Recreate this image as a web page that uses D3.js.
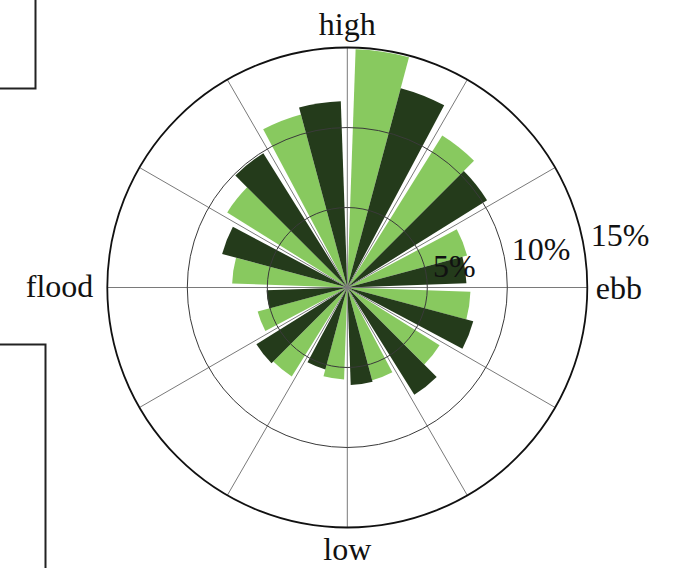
<!DOCTYPE html>
<html>
<head>
<meta charset="utf-8">
<script src="https://cdn.jsdelivr.net/npm/d3@7/dist/d3.min.js"></script>
<style>
  html, body { margin: 0; padding: 0; background: #fff; }
  svg { display: block; }
  text { font-family: "Liberation Serif", "DejaVu Serif", serif; fill: #111; }
</style>
</head>
<body>
<svg id="chart" width="675" height="568"></svg>
<script>
// ---- data ----
const binStarts = [0, 30, 60, 90, 120, 150, 180, 210, 240, 270, 300, 330]; // degrees, clockwise from "high"
const lightValues = [14.9, 11.2, 7.75, 7.7, 6.8, 6.0, 5.75, 6.55, 5.8, 7.2, 8.85, 11.2];
const darkValues  = [12.9, 10.3, 7.45, 8.15, 7.9, 6.1, 5.3, 6.7, 5.05, 8.1, 9.9, 11.65];
const radialTicks = [5, 10, 15];
const tickLabels = ["5%", "10%", "15%"];
const directionLabels = ["high", "ebb", "low", "flood"];
const directionAngles = [0, 90, 180, 270];

// ---- layout ----
const svg = d3.select("#chart");
const cx = 347.3, cy = 287.5;
const rScale = d3.scaleLinear().domain([0, 15]).range([0, 240]);
const rad = d => d * Math.PI / 180;
const colLight = "#88c95f";
const colDark = "#243b1b";

// frame fragments of neighbouring panels
svg.append("path").attr("d", "M35.5,0 V88.5 H0").attr("fill", "none").attr("stroke", "#222").attr("stroke-width", 2);
svg.append("path").attr("d", "M0,344.5 H45.5 V568").attr("fill", "none").attr("stroke", "#222").attr("stroke-width", 2);

const g = svg.append("g").attr("transform", `translate(${cx},${cy})`);
const arc = d3.arc().innerRadius(0);

// bars
const bars = [];
binStarts.forEach((s, i) => {
  bars.push({ start: s + 2, end: s + 15, v: lightValues[i], c: colLight });
  bars.push({ start: s + 15, end: s + 28, v: darkValues[i], c: colDark });
});
g.selectAll("path.bar").data(bars).join("path")
  .attr("class", "bar")
  .attr("d", d => arc({ startAngle: rad(d.start), endAngle: rad(d.end), outerRadius: rScale(d.v) }))
  .attr("fill", d => d.c);

// spokes
const spokeAngles = d3.range(0, 360, 30);
g.selectAll("line.spoke").data(spokeAngles).join("line")
  .attr("class", "spoke")
  .attr("x1", 0).attr("y1", 0)
  .attr("x2", a => rScale(15) * Math.sin(rad(a)))
  .attr("y2", a => -rScale(15) * Math.cos(rad(a)))
  .attr("stroke", "#7a7a7a").attr("stroke-width", 1);

// circles
g.selectAll("circle.grid").data(radialTicks).join("circle")
  .attr("class", "grid")
  .attr("r", d => rScale(d))
  .attr("fill", "none")
  .attr("stroke", d => d === 15 ? "#111" : "#3a3a3a")
  .attr("stroke-width", d => d === 15 ? 1.8 : 1);

// radial tick labels
const labAng = rad(10);
g.selectAll("text.rt").data(radialTicks).join("text")
  .attr("class", "rt")
  .attr("x", d => rScale(d) * Math.cos(labAng) + 7)
  .attr("y", d => -rScale(d) * Math.sin(labAng) + (d === 5 ? 3.5 : 0))
  .attr("font-size", 32)
  .text((d, i) => tickLabels[i]);

// direction labels
const R = rScale(15);
const dirPos = [
  { x: 0, y: -R - 12.5, anchor: "middle" },
  { x: R + 8.5, y: 11.5, anchor: "start" },
  { x: 0, y: R + 32.5, anchor: "middle" },
  { x: -R - 14, y: 9.8, anchor: "end" }
];
g.selectAll("text.dir").data(directionLabels).join("text")
  .attr("class", "dir")
  .attr("x", (d, i) => dirPos[i].x)
  .attr("y", (d, i) => dirPos[i].y)
  .attr("text-anchor", (d, i) => dirPos[i].anchor)
  .attr("font-size", 32)
  .text(d => d);
</script>
</body>
</html>
